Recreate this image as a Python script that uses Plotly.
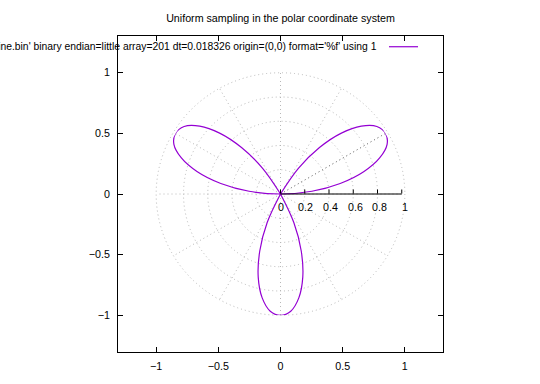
import plotly.graph_objects as go

# ---- data ----
# three petals, each traced from the origin out and back (theta in degrees, r >= 0)
theta_petal_a = [0, 5, 10, 15, 20, 25, 30, 35, 40, 45, 50, 55, 60]
r_petal_a = [0.0, 0.26, 0.50, 0.71, 0.87, 0.97, 1.00, 0.97, 0.87, 0.71, 0.50, 0.26, 0.0]
theta_petal_c = [240, 245, 250, 255, 260, 265, 270, 275, 280, 285, 290, 295, 300]
r_petal_c = [0.0, 0.26, 0.50, 0.71, 0.87, 0.97, 1.00, 0.97, 0.87, 0.71, 0.50, 0.26, 0.0]
theta_petal_b = [120, 125, 130, 135, 140, 145, 150, 155, 160, 165, 170, 175, 180]
r_petal_b = [0.0, 0.26, 0.50, 0.71, 0.87, 0.97, 1.00, 0.97, 0.87, 0.71, 0.50, 0.26, 0.0]

axis_ticks = [-1, -0.5, 0, 0.5, 1]
axis_ticktext = ["\u22121", "\u22120.5", "0", "0.5", "1"]
r_ticks = [0, 0.2, 0.4, 0.6, 0.8, 1.0]
r_ticktext = ["0", "0.2", "0.4", "0.6", "0.8", "1"]
angle_grid = [0, 30, 60, 90, 120, 150, 180, 210, 240, 270, 300, 330]

title_text = "Uniform sampling in the polar coordinate system"
legend_text = ("'sine.bin' binary endian=little array=201 dt=0.018326 "
               "origin=(0,0) format='%f' using 1")

# ---- style ----
FONT = "Liberation Sans, Arial, sans-serif"
FS = 10.7
FS_LEG = 10.35
CURVE = "#9400D3"
GRID = "#b8b8b8"
W, H = 540, 384
ML, MR, MT, MB = 118, 97, 36, 24
PW, PH = W - ML - MR, H - MT - MB
XR, YR = 1.307, 1.303
PPU = PW / (2 * XR)  # pixels per unit

# polar domain covering r in [0,1]
dx = PPU / PW
dy = PPU / PH
polar_domain_x = [0.5 - dx, 0.5 + dx]
polar_domain_y = [0.5 - dy, 0.5 + dy]

theta_all = theta_petal_a + theta_petal_c + theta_petal_b
r_all = r_petal_a + r_petal_c + r_petal_b

fig = go.Figure()
fig.add_trace(go.Scatter(x=[None], y=[None], showlegend=False, hoverinfo="skip"))

# darker dotted radial line at 30 deg
fig.add_trace(go.Scatterpolar(
    r=[0, 1], theta=[30, 30], mode="lines",
    line=dict(color="#808080", width=1, dash="1px,3px"),
    showlegend=False, hoverinfo="skip"))

fig.add_trace(go.Scatterpolar(
    r=r_all, theta=theta_all, mode="lines",
    line=dict(color=CURVE, width=1.2, shape="spline"),
    showlegend=False, cliponaxis=False))

shapes = [
    dict(type="circle", xref="x", yref="y", x0=-1, x1=1, y0=-1, y1=1,
         line=dict(color=GRID, width=1, dash="1px,3px"), layer="below"),
    dict(type="line", xref="paper", yref="paper",
         x0=(389 - ML) / PW, x1=(418 - ML) / PW,
         y0=(H - MB - 47) / PH, y1=(H - MB - 47) / PH,
         line=dict(color=CURVE, width=1.2)),
]

annotations = [
    dict(text=legend_text, xref="paper", yref="paper",
         x=(379 - ML) / PW, y=(H - MB - 47) / PH,
         xanchor="right", yanchor="middle", showarrow=False,
         font=dict(family=FONT, size=FS_LEG, color="black")),
]
# r-axis tick labels below the polar axis line
for rv, rt in zip(r_ticks, r_ticktext):
    annotations.append(dict(
        text=rt, xref="x", yref="y", x=rv, y=0, xanchor="center",
        yanchor="middle", yshift=-13, showarrow=False,
        font=dict(family=FONT, size=FS, color="black")))

axis_common = dict(
    showline=True, linecolor="black", linewidth=1, mirror="ticks",
    ticks="inside", ticklen=5, tickcolor="black", tickwidth=1,
    showgrid=False, zeroline=False, tickvals=axis_ticks, ticktext=axis_ticktext,
    tickfont=dict(family=FONT, size=FS, color="black"), fixedrange=True,
)

fig.update_layout(
    width=W, height=H,
    margin=dict(l=ML, r=MR, t=MT, b=MB, pad=0),
    paper_bgcolor="white", plot_bgcolor="white",
    font=dict(family=FONT, size=FS, color="black"),
    title=dict(text=title_text, x=0.5, xref="paper", xanchor="center",
               y=1 - 18 / H, yref="container", yanchor="middle",
               font=dict(family=FONT, size=FS, color="black")),
    xaxis=dict(range=[-XR, XR], ticklabelstandoff=4, **axis_common),
    yaxis=dict(range=[-YR, YR], ticklabelstandoff=5, **axis_common),
    polar=dict(
        domain=dict(x=polar_domain_x, y=polar_domain_y),
        bgcolor="rgba(0,0,0,0)",
        radialaxis=dict(
            range=[0, 1], angle=0, side="counterclockwise",
            tickvals=r_ticks, showticklabels=False,
            showline=True, linecolor="black", linewidth=1,
            ticks="outside", ticklen=4, tickcolor="black",
            showgrid=True, gridcolor=GRID, gridwidth=1, griddash="1px,3px",
        ),
        angularaxis=dict(
            tickvals=angle_grid, showticklabels=False, ticks="",
            showline=False, showgrid=True, gridcolor=GRID, gridwidth=1,
            griddash="1px,3px", direction="counterclockwise", rotation=0,
        ),
    ),
    shapes=shapes,
    annotations=annotations,
    showlegend=False,
)

fig.write_html(
    "out.html",
    config={"displayModeBar": False},
    post_script="document.body.style.margin='0';document.body.style.padding='0';",
)
